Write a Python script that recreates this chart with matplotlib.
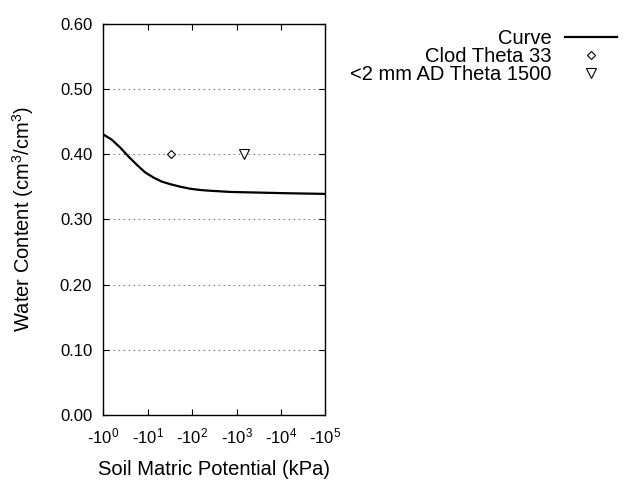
import numpy as np
import matplotlib
matplotlib.use("Agg")
import matplotlib.pyplot as plt
from matplotlib.ticker import FixedLocator, FixedFormatter

plt.rcParams['font.family'] = ['Liberation Sans', 'DejaVu Sans']
plt.rcParams['mathtext.fontset'] = 'custom'
plt.rcParams['mathtext.rm'] = 'Liberation Sans'
plt.rcParams['mathtext.it'] = 'Liberation Sans'

# retention curve (suction in kPa, water content)
curve_kpa = [1, 1.55, 2.4, 3.7, 5.6, 8.7, 13.5, 20.4, 31.6, 54, 89, 151, 229, 724, 3160, 14100, 100000]
curve_theta = [0.430, 0.422, 0.410, 0.396, 0.384, 0.372, 0.364, 0.358, 0.354, 0.350, 0.347, 0.345, 0.344, 0.342, 0.341, 0.340, 0.339]

clod_kpa = [33]
clod_theta = [0.40]
ad_kpa = [1500]
ad_theta = [0.40]

xtick_vals = [1, 10, 100, 1000, 10000, 100000]
xtick_labels = ['-10$^{%d}$' % i for i in range(6)]
ytick_vals = [0.0, 0.1, 0.2, 0.3, 0.4, 0.5, 0.6]

fig = plt.figure(figsize=(6.4, 4.8), dpi=100)
ax = fig.add_axes([0.1615, 0.135, 0.347, 0.816])

ax.plot(curve_kpa, curve_theta, color='black', lw=1.6, label='Curve')
ax.plot(clod_kpa, clod_theta, linestyle='none', marker='D', markersize=4,
        markerfacecolor='white', markeredgecolor='black', markeredgewidth=0.8,
        label='Clod Theta 33')
ax.plot(ad_kpa, ad_theta, linestyle='none', marker='v', markersize=6.5,
        markerfacecolor='white', markeredgecolor='black', markeredgewidth=0.8,
        label='<2 mm AD Theta 1500')

ax.set_xscale('log')
ax.set_xlim(1, 100000)
ax.set_ylim(0, 0.6)
ax.xaxis.set_major_locator(FixedLocator(xtick_vals))
ax.xaxis.set_major_formatter(FixedFormatter(xtick_labels))
ax.xaxis.set_minor_locator(FixedLocator([]))
ax.set_yticks(ytick_vals)
ax.set_yticklabels(['%.2f' % v for v in ytick_vals])
ax.tick_params(direction='in', top=True, right=True, length=4, width=0.8,
               labelsize=12, pad=8)
for s in ax.spines.values():
    s.set_linewidth(1.0)

for v in ytick_vals[1:-1]:
    ax.axhline(v, color='gray', linestyle=(0, (1.5, 3)), lw=0.8, zorder=0)

ax.set_xlabel('Soil Matric Potential (kPa)', fontsize=14.5, labelpad=10)
ax.set_ylabel('Water Content (cm$^{3}$/cm$^{3}$)', fontsize=14.5, labelpad=17)

fig.legend(loc='upper right', bbox_to_anchor=(0.964, 0.94), frameon=False,
           markerfirst=False, fontsize=14.5, handlelength=2.6, labelspacing=-0.05,
           handletextpad=0.65, borderpad=0, borderaxespad=0)

fig.savefig('out.png', dpi=100)
